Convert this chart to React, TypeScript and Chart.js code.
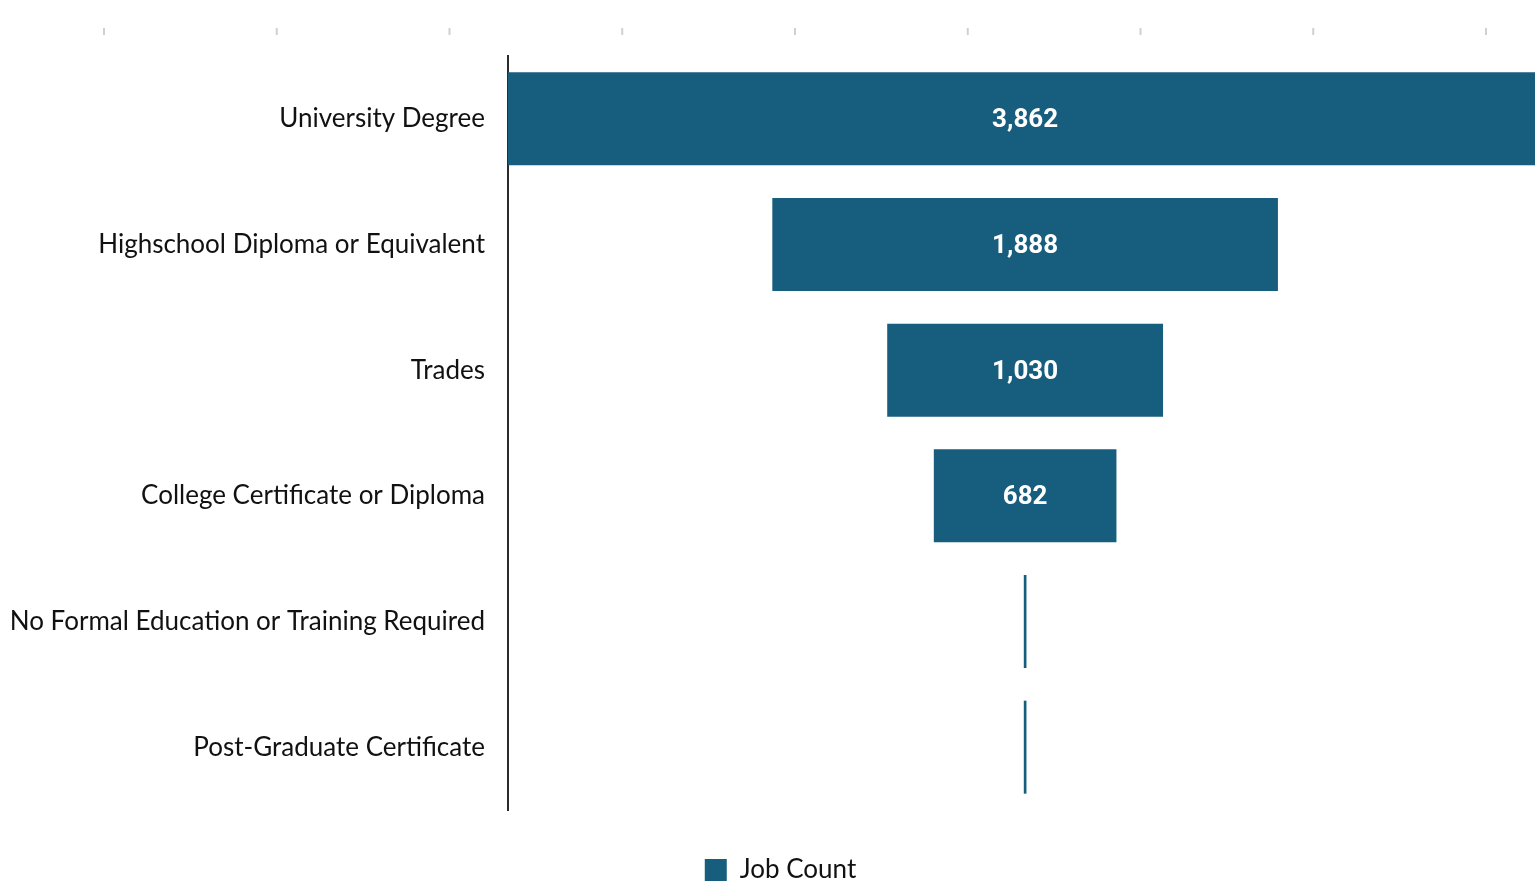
import { useEffect, useRef } from "react";
import { Chart, registerables } from "chart.js";

Chart.register(...registerables);

const categories = [
  "University Degree",
  "Highschool Diploma or Equivalent",
  "Trades",
  "College Certificate or Diploma",
  "No Formal Education or Training Required",
  "Post-Graduate Certificate",
];
const jobCounts = [3862, 1888, 1030, 682, 10, 10];
const seriesLabel = "Job Count";
const axisMin = -1931;
const axisMax = 2001;

const BAR_COLOR = "#175E7E";
const LABEL_FONT = "Lato, 'Open Sans', sans-serif";
const CANVAS_W = 1561;
const CANVAS_H = 893;

const valueLabelPlugin = {
  id: "funnelValueLabels",
  afterDatasetsDraw(chart: any) {
    const meta = chart.getDatasetMeta(0);
    const xScale = chart.scales.x;
    const ctx = chart.ctx;
    ctx.save();
    ctx.fillStyle = "#ffffff";
    ctx.font = "bold 26px Roboto, 'Liberation Sans', sans-serif";
    ctx.textAlign = "center";
    ctx.textBaseline = "middle";
    meta.data.forEach((el: any, i: number) => {
      const v = jobCounts[i];
      const w = xScale.getPixelForValue(v / 2) - xScale.getPixelForValue(-v / 2);
      if (w < 80) return;
      ctx.fillText(v.toLocaleString("en-US"), xScale.getPixelForValue(0), el.y + 2);
    });
    ctx.restore();
  },
};

const topTicksPlugin = {
  id: "topTicks",
  beforeDraw(chart: any) {
    const ctx = chart.ctx;
    ctx.save();
    ctx.strokeStyle = "#d0d0d0";
    ctx.lineWidth = 2;
    for (let i = 0; i < 9; i++) {
      const x = 104 + i * 172.75;
      ctx.beginPath();
      ctx.moveTo(x, 28);
      ctx.lineTo(x, 35);
      ctx.stroke();
    }
    ctx.restore();
  },
};

export default function App() {
  const canvasRef = useRef<HTMLCanvasElement | null>(null);

  useEffect(() => {
    if (!canvasRef.current) return;
    const chart = new Chart(canvasRef.current, {
      type: "bar",
      data: {
        labels: categories,
        datasets: [
          {
            label: seriesLabel,
            data: jobCounts.map((v) => [-v / 2, v / 2]) as any,
            backgroundColor: BAR_COLOR,
            borderWidth: 0,
            borderSkipped: false,
            categoryPercentage: 1,
            barPercentage: 0.74,
          },
        ],
      },
      options: {
        indexAxis: "y",
        responsive: false,
        animation: false,
        layout: { padding: { top: 56, left: 0, right: 0, bottom: 0 } },
        scales: {
          x: {
            position: "bottom",
            min: axisMin,
            max: axisMax,
            grid: { display: false, drawTicks: false },
            border: { display: false },
            ticks: { display: false },
            afterFit: (scale: any) => {
              scale.height = 38;
            },
          },
          y: {
            grid: { display: false, drawTicks: false },
            border: { display: true, color: "#2b2b2b", width: 2 },
            ticks: {
              color: "#111111",
              padding: 23,
              font: { family: LABEL_FONT, size: 26 },
            },
            afterFit: (scale: any) => {
              scale.width = 508;
            },
          },
        },
        plugins: {
          legend: {
            position: "bottom",
            labels: {
              color: "#111111",
              boxWidth: 22,
              boxHeight: 22,
              padding: 9,
              font: { family: LABEL_FONT, size: 26 },
            },
          },
          tooltip: { enabled: false },
        },
      },
      plugins: [valueLabelPlugin, topTicksPlugin],
    });
    return () => chart.destroy();
  }, []);

  return (
    <div style={{ position: "fixed", left: 0, top: 0, width: 1535, height: 881, overflow: "hidden", background: "#fff" }}>
      <canvas
        ref={canvasRef}
        width={CANVAS_W}
        height={CANVAS_H}
        style={{ width: CANVAS_W, height: CANVAS_H, display: "block" }}
      />
    </div>
  );
}
